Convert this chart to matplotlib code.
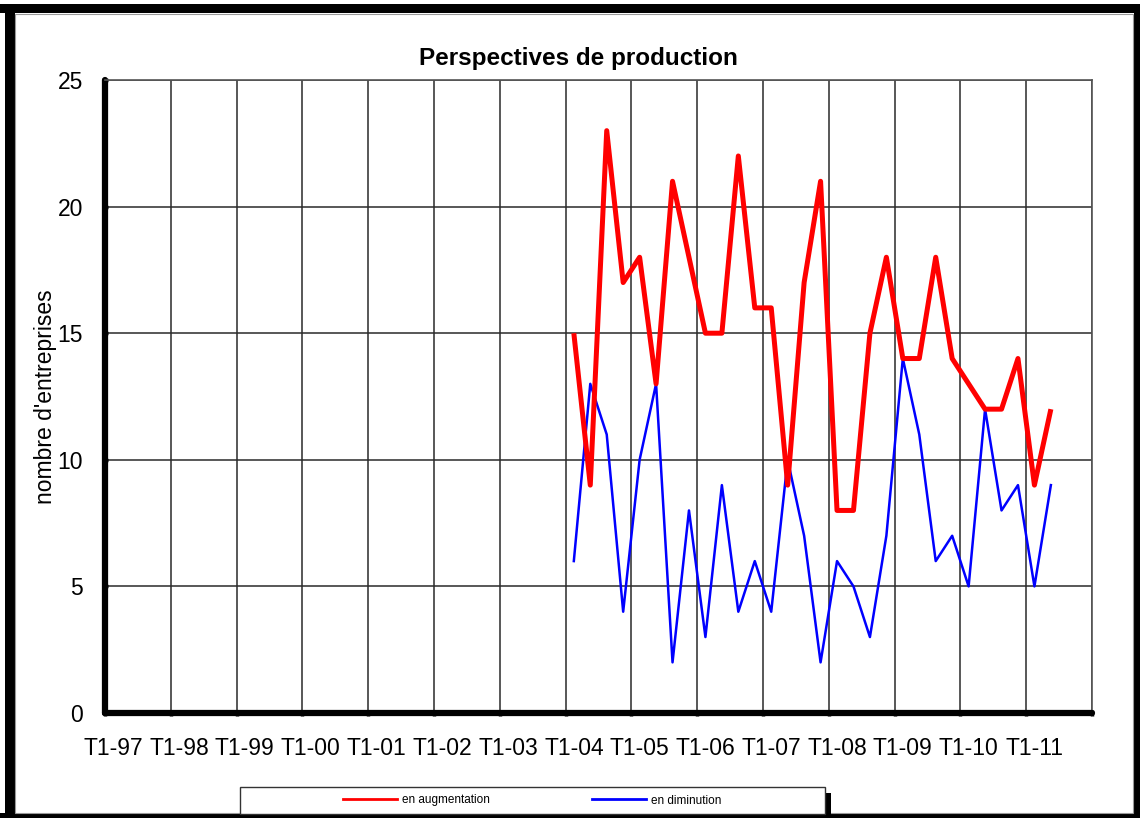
import matplotlib
matplotlib.use("Agg")
import matplotlib.pyplot as plt
from matplotlib.patches import Rectangle
from matplotlib.lines import Line2D
import numpy as np

plt.rcParams["font.family"] = ["Liberation Sans", "DejaVu Sans"]

# Quarterly categories T1-97 .. T4-11
years = ["97", "98", "99", "00", "01", "02", "03", "04", "05", "06", "07", "08", "09", "10", "11"]
quarters = [f"T{q}-{y}" for y in years for q in range(1, 5)]

# Survey series, available from T1-04 to T2-11
series_start = "T1-04"
en_augmentation = [15, 9, 23, 17, 18, 13, 21, 18, 15, 15, 22, 16, 16, 9, 17,
                   21, 8, 8, 15, 18, 14, 14, 18, 14, 13, 12, 12, 14, 9, 12]
en_diminution = [6, 13, 11, 4, 10, 13, 2, 8, 3, 9, 4, 6, 4, 10, 7,
                 2, 6, 5, 3, 7, 14, 11, 6, 7, 5, 12, 8, 9, 5, 9]

y_ticks = [0, 5, 10, 15, 20, 25]

W, H = 1140, 818
fig = plt.figure(figsize=(W / 100, H / 100), dpi=100)


def fx(px):
    return px / W


def fy(py):
    return 1 - py / H


ax_left, ax_right, ax_top, ax_bottom = 105, 1092, 80, 713
ax = fig.add_axes([fx(ax_left), fy(ax_bottom), fx(ax_right) - fx(ax_left), fy(ax_top) - fy(ax_bottom)])

start = quarters.index(series_start)
xs = np.arange(start, start + len(en_augmentation)) + 0.5

ax.plot(xs, en_augmentation, color="#ff0000", lw=3.6, solid_joinstyle="round",
        solid_capstyle="butt", zorder=4, label="en augmentation")
ax.plot(xs, en_diminution, color="#0000ff", lw=1.8, zorder=3, label="en diminution")

ax.set_xlim(0, len(quarters))
ax.set_ylim(0, 25)

# Grid at each year boundary and every 5 units
for xv in range(4, len(quarters) + 1, 4):
    ax.axvline(xv, color="#2a2a2a", lw=1.1, zorder=1)
for yv in y_ticks[1:]:
    ax.axhline(yv, color="#2a2a2a", lw=1.1, zorder=1)

ax.set_yticks(y_ticks)
ax.set_yticklabels([str(v) for v in y_ticks], fontsize=16.5)
label_pos = np.arange(0, len(quarters), 4) + 0.5
ax.set_xticks(label_pos)
ax.set_xticklabels([quarters[i] for i in range(0, len(quarters), 4)], fontsize=16.5)
ax.set_xticks(np.arange(0, len(quarters) + 1, 4), minor=True)
ax.tick_params(axis="x", which="major", length=0, pad=17)
ax.tick_params(axis="x", which="minor", length=4, width=2.5, direction="inout", color="black")
ax.tick_params(axis="y", length=4, width=2.5, direction="inout", pad=14, color="black")

for side in ("top", "right"):
    ax.spines[side].set_color("#555555")
    ax.spines[side].set_linewidth(1.2)
for side in ("left", "bottom"):
    ax.spines[side].set_color("black")
    ax.spines[side].set_linewidth(4.5)
    ax.spines[side].set_capstyle("round")

ax.set_ylabel("nombre d'entreprises", fontsize=16.5)
ax.yaxis.set_label_coords((57 - ax_left) / (ax_right - ax_left), 0.5)

fig.text(fx(578), fy(58), "Perspectives de production", fontsize=17.5,
         fontweight="bold", ha="center", va="center")

# Legend box with drop shadow
lx0, lx1, ly0, ly1 = 240, 825, 787, 814
fig.patches.append(Rectangle((fx(lx0 + 6), fy(ly1 + 6)), fx(lx1) - fx(lx0), fy(ly0) - fy(ly1),
                             transform=fig.transFigure, facecolor="black", edgecolor="none", zorder=1))
fig.patches.append(Rectangle((fx(lx0), fy(ly1)), fx(lx1) - fx(lx0), fy(ly0) - fy(ly1),
                             transform=fig.transFigure, facecolor="white", edgecolor="#333333",
                             lw=1.0, zorder=2))
handles, labels = ax.get_legend_handles_labels()
handles = [Line2D([], [], color=h.get_color(), lw=2.0) for h in handles]
leg = fig.legend(handles, labels, loc="center", bbox_to_anchor=(fx(532), fy(800.5)),
                 ncol=2, frameon=False, fontsize=8.5, handlelength=4.6,
                 handletextpad=0.4, columnspacing=8.6, borderpad=0)
leg.set_zorder(3)

# Outer frame
frame_parts = [(0, 4, W, 9), (5, 4, 10, H), (1134, 4, 6, H), (0, 813, W, 5)]
for x0, y0, w, h in frame_parts:
    fig.patches.append(Rectangle((fx(x0), fy(y0 + h)), w / W, h / H,
                                 transform=fig.transFigure, facecolor="black",
                                 edgecolor="none", zorder=0))
fig.patches.append(Rectangle((fx(15), fy(813)), fx(1133) - fx(15), fy(14) - fy(813),
                             transform=fig.transFigure, facecolor="none",
                             edgecolor="#999999", lw=0.8, zorder=0))

fig.savefig("out.png", dpi=100)
